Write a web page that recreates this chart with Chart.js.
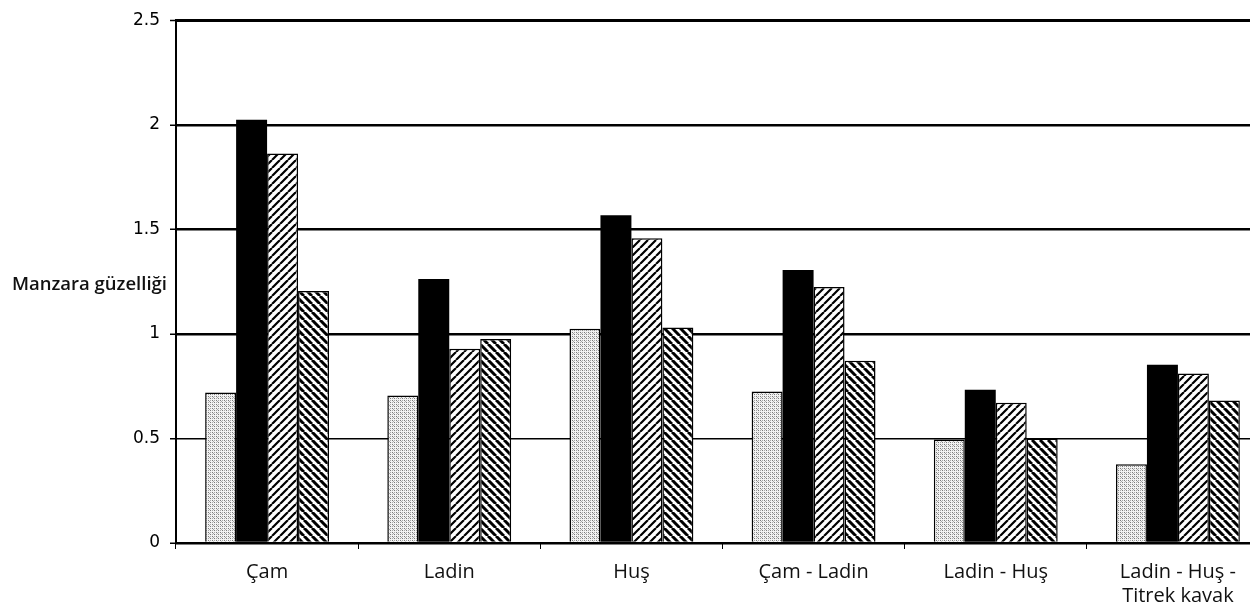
<!DOCTYPE html>
<html>
<head>
<meta charset="utf-8">
<script src="https://cdn.jsdelivr.net/npm/chart.js@4"></script>
<style>
  html, body { margin: 0; padding: 0; background: #fff; overflow: hidden; }
  #wrap { width: 1250px; height: 616px; overflow: hidden; }
</style>
</head>
<body>
<div id="wrap"><canvas id="chart" width="1275" height="616"></canvas></div>
<script>
// ======================
// Data
// ======================
const categories = ["Çam", "Ladin", "Huş", "Çam - Ladin", "Ladin - Huş", ["Ladin - Huş -", "Titrek kavak"]];
const seriesNames = ["Seri 1", "Seri 2", "Seri 3", "Seri 4"];
const series1 = [0.72, 0.705, 1.024, 0.724, 0.495, 0.376];
const series2 = [2.024, 1.262, 1.567, 1.305, 0.733, 0.852];
const series3 = [1.862, 0.929, 1.457, 1.224, 0.671, 0.81];
const series4 = [1.205, 0.976, 1.03, 0.871, 0.5, 0.681];
const yTicks = [0, 0.5, 1, 1.5, 2, 2.5];
const yTitle = "Manzara güzelliği";

// ======================
// Patterns
// ======================
function makeHatch(size, width, dir) {
    const c = document.createElement("canvas");
    c.width = c.height = size;
    const g = c.getContext("2d");
    g.fillStyle = "#fff";
    g.fillRect(0, 0, size, size);
    g.strokeStyle = "#000";
    g.lineWidth = width;
    g.beginPath();
    for (let k = -1; k <= 1; k++) {
        if (dir > 0) { g.moveTo(k * size, size); g.lineTo(k * size + size, 0); } // "/"
        else { g.moveTo(k * size, 0); g.lineTo(k * size + size, size); }         // "\"
    }
    g.stroke();
    return g.createPattern(c, "repeat");
}

function makeDots() {
    const c = document.createElement("canvas");
    c.width = c.height = 4;
    const g = c.getContext("2d");
    g.fillStyle = "#f2f2f2";
    g.fillRect(0, 0, 4, 4);
    g.fillStyle = "#7a7a7a";
    g.fillRect(0, 0, 1, 1);
    g.fillRect(2, 2, 1, 1);
    g.fillStyle = "#a8a8a8";
    g.fillRect(2, 0, 1, 1);
    g.fillRect(0, 2, 1, 1);
    g.fillRect(1, 1, 1, 1);
    return g.createPattern(c, "repeat");
}

// ======================
// Y title (horizontal, left of axis)
// ======================
const yTitlePlugin = {
    id: "yTitle",
    afterDraw(chart) {
        const ctx = chart.ctx;
        const y = chart.scales.y;
        ctx.save();
        ctx.font = '600 18.5px "Open Sans"';
        ctx.fillStyle = "#111";
        ctx.textAlign = "right";
        ctx.textBaseline = "middle";
        ctx.fillText(yTitle, y.left + y.width - 9, 285);
        ctx.restore();
    }
};

const ctx = document.getElementById("chart").getContext("2d");
const fills = [makeDots(), "#000", makeHatch(8, 2.2, 1), makeHatch(8, 3, -1)];
const values = [series1, series2, series3, series4];

new Chart(ctx, {
    type: "bar",
    data: {
        labels: categories,
        datasets: values.map((v, i) => ({
            label: seriesNames[i],
            data: v,
            backgroundColor: fills[i],
            borderColor: "#000",
            borderWidth: i === 1 ? 0 : 1.5,
            categoryPercentage: 0.68,
            barPercentage: 1,
        }))
    },
    plugins: [yTitlePlugin],
    options: {
        responsive: false,
        animation: false,
        devicePixelRatio: 1,
        layout: { padding: { top: 18, right: 6, left: 0, bottom: 0 } },
        plugins: {
            legend: { display: false },
            tooltip: { enabled: false }
        },
        scales: {
            x: {
                afterFit(s) { s.height = 73; },
                border: { color: "#000", width: 2 },
                grid: {
                    drawOnChartArea: false,
                    drawTicks: true,
                    tickLength: 6,
                    color: "#000",
                    lineWidth: 1
                },
                ticks: {
                    padding: 11,
                    maxRotation: 0,
                    autoSkip: false,
                    color: "#111",
                    font: { family: "Open Sans", size: 20 }
                }
            },
            y: {
                min: 0,
                max: 2.5,
                afterFit(s) { s.width = 176; },
                afterBuildTicks(s) { s.ticks = yTicks.map(v => ({ value: v })); },
                border: { color: "#000", width: 2 },
                grid: {
                    color: "#000",
                    tickLength: 6,
                    tickWidth: 1.5,
                    lineWidth: c => {
                        const v = c.tick ? c.tick.value : 0;
                        if (v === 2.5) return 3;
                        if (v === 0.5) return 1.5;
                        return 2.5;
                    }
                },
                ticks: {
                    padding: 10,
                    color: "#000",
                    font: { family: "DejaVu Sans", size: 17 },
                    callback: v => String(v)
                }
            }
        }
    }
});
</script>
</body>
</html>
